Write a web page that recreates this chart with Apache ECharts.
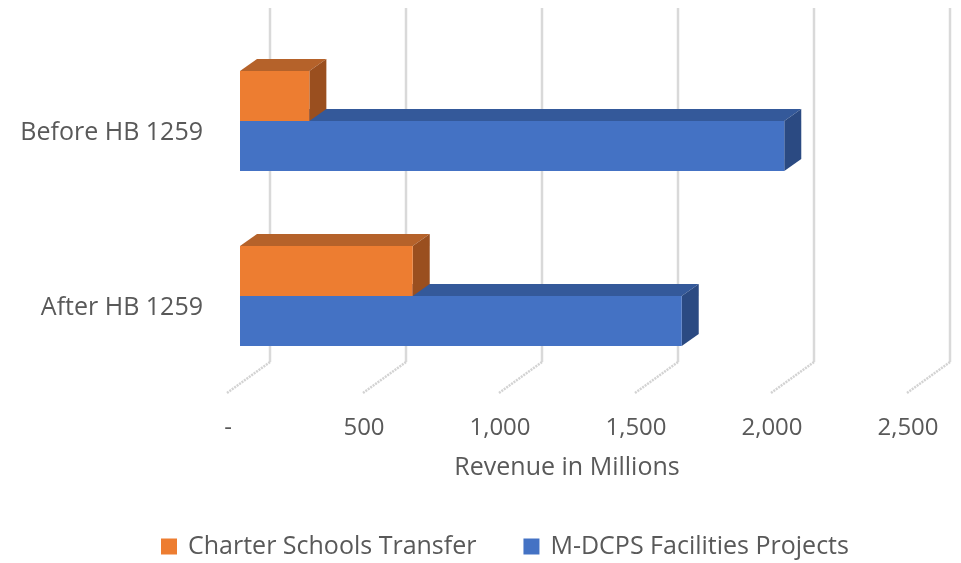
<!DOCTYPE html>
<html>
<head>
<meta charset="utf-8">
<script src="https://cdn.jsdelivr.net/npm/echarts@6/dist/echarts.min.js"></script>
<style>html,body{margin:0;padding:0;background:#fff}#c{width:961px;height:563px}</style>
</head>
<body>
<div id="c"></div>
<script>
const categories = ['Before HB 1259', 'After HB 1259'];
const seriesNames = ['Charter Schools Transfer', 'M-DCPS Facilities Projects'];
const charterValues = [255, 635];
const facilitiesValues = [2001, 1624];
const xTicks = [0, 500, 1000, 1500, 2000, 2500];
const xTickLabels = ['-', '500', '1,000', '1,500', '2,000', '2,500'];
const axisTitle = 'Revenue in Millions';

const FONT = 'Open Sans';
const TXT = '#595959';
const DX = 17, DY = -12;           // depth offset of each box
const BACK_DX = 30;                // back-wall offset of gridlines
const FLOOR_DX = -13, FLOOR_DY = 31;
const GRID_TOP_PX = 8, GRID_BOTTOM_PX = 362;

const colors = {
  orange: {front: '#ED7D31', top: '#B5622A', side: '#9A4F1F'},
  blue: {front: '#4472C4', top: '#34599A', side: '#2B4A82'}
};

function boxRender(palette, upper) {
  return function (params, api) {
    const v = api.value(0), cat = api.value(1);
    const p0 = api.coord([0, cat]);
    const p1 = api.coord([v, cat]);
    const band = api.size([0, 1])[1];
    const h = band * 0.286;
    const yTop = upper ? p0[1] - h : p0[1];
    const yBot = yTop + h;
    const x0 = p0[0], x1 = p1[0];
    return {
      type: 'group',
      children: [
        {type: 'polygon', shape: {points: [[x0, yTop], [x1, yTop], [x1 + DX, yTop + DY], [x0 + DX, yTop + DY]]}, style: {fill: palette.top}},
        {type: 'polygon', shape: {points: [[x1, yTop], [x1 + DX, yTop + DY], [x1 + DX, yBot + DY], [x1, yBot]]}, style: {fill: palette.side}},
        {type: 'rect', shape: {x: x0, y: yTop, width: x1 - x0, height: h}, style: {fill: palette.front}}
      ]
    };
  };
}

const chart = echarts.init(document.getElementById('c'), null, {renderer: 'canvas'});
chart.setOption({
  animation: false,
  backgroundColor: '#fff',
  textStyle: {fontFamily: FONT},
  grid: {left: 240, top: 33.5, width: 680, height: 350, containLabel: false},
  xAxis: {
    type: 'value', min: 0, max: 2500, interval: 500,
    axisLine: {show: false}, axisTick: {show: false}, splitLine: {show: false},
    axisLabel: {
      margin: 33,
      formatter: function (v) { return '{a|' + xTickLabels[xTicks.indexOf(v)] + '}'; },
      rich: {a: {fontFamily: FONT, fontSize: 24, color: TXT, padding: [0, 24, 0, 0]}}
    },
    name: axisTitle, nameLocation: 'middle', nameGap: 72,
    nameTextStyle: {fontFamily: FONT, fontSize: 25, color: TXT, padding: [0, 26, 0, 0]}
  },
  yAxis: {
    type: 'category', inverse: true, data: categories,
    axisLine: {show: false}, axisTick: {show: false}, splitLine: {show: false},
    axisLabel: {
      margin: 37,
      formatter: function (v) { return '{a|' + v + '}'; },
      rich: {a: {fontFamily: FONT, fontSize: 25, color: TXT, padding: [24, 0, 0, 0]}}
    }
  },
  legend: {
    left: 156, top: 529, itemWidth: 16, itemHeight: 16, itemGap: 47, icon: 'rect',
    data: seriesNames,
    textStyle: {fontFamily: FONT, fontSize: 25, color: TXT, padding: [0, 0, 0, 6]}
  },
  series: [
    {
      type: 'custom', name: 'grid', silent: true, z: 1,
      data: xTicks.map(function (t) { return [t, 0]; }),
      renderItem: function (params, api) {
        const xf = api.coord([api.value(0), 0])[0];
        const x = xf + BACK_DX;
        return {
          type: 'group',
          children: [
            {type: 'line', shape: {x1: x, y1: GRID_TOP_PX, x2: x, y2: GRID_BOTTOM_PX}, style: {stroke: '#d9d9d9', lineWidth: 2.5}},
            {type: 'line', shape: {x1: x, y1: GRID_BOTTOM_PX, x2: xf + FLOOR_DX, y2: GRID_BOTTOM_PX + FLOOR_DY}, style: {stroke: '#d3d3d3', lineWidth: 2.5, lineDash: [2, 1]}}
          ]
        };
      }
    },
    {
      type: 'custom', name: seriesNames[1], z: 2,
      itemStyle: {color: colors.blue.front},
      data: facilitiesValues.map(function (v, i) { return [v, i]; }),
      renderItem: boxRender(colors.blue, false)
    },
    {
      type: 'custom', name: seriesNames[0], z: 3,
      itemStyle: {color: colors.orange.front},
      data: charterValues.map(function (v, i) { return [v, i]; }),
      renderItem: boxRender(colors.orange, true)
    }
  ]
});
</script>
</body>
</html>
